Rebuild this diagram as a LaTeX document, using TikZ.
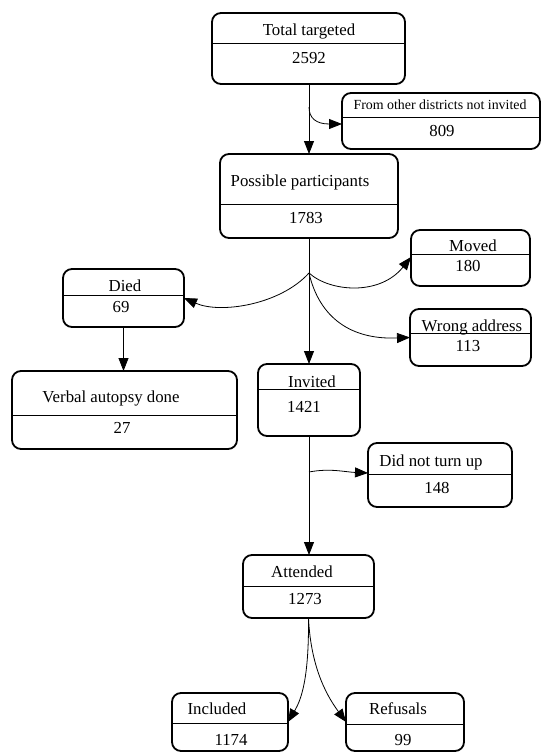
\documentclass[tikz,border=0pt]{standalone}
\usepackage{fontspec}
\setmainfont{Liberation Serif}
\usetikzlibrary{arrows.meta}
\newcommand\flowbox[6]{%
  \node[box, minimum width={(#4-#2)*1bp}, minimum height={(#5-#3)*1bp}] (#1) at ({(#2+#4)/2},{(#3+#5)/2}) {};
  \draw[divline] (#1.west |- 0,#6) -- (#1.east |- 0,#6);
}
\begin{document}
\begin{tikzpicture}[x=1bp,y=-1bp,
  box/.style={draw, line width=1.8bp, rounded corners=9bp, inner sep=0pt, outer sep=0pt},
  divline/.style={line width=0.8bp},
  txt/.style={font=\fontsize{16.8bp}{20bp}\selectfont, inner sep=0pt, anchor=base, yshift=-5.5bp},
  smalltxt/.style={font=\fontsize{13.9bp}{16bp}\selectfont, inner sep=0pt, anchor=base, yshift=-4.5bp},
  edge/.style={line width=0.8bp, -{Triangle[length=13bp,width=10bp]}}]
\useasboundingbox (0,0) rectangle (549,753);

% boxes
\flowbox{tt}{212}{13}{405}{84}{43}
\flowbox{fod}{342}{93}{540}{149}{117}
\flowbox{pp}{220}{154}{398}{238}{204}
\flowbox{mv}{411}{230}{530}{286}{254}
\flowbox{died}{63}{269}{184}{327}{295}
\flowbox{wa}{410}{309}{531}{366}{333}
\flowbox{inv}{258}{364}{360}{436}{389}
\flowbox{va}{12}{371}{237}{449}{415}
\flowbox{dnt}{368}{443}{512}{507}{474}
\flowbox{att}{243}{555}{374}{618}{586}
\flowbox{inc}{172}{693}{288}{751}{723}
\flowbox{ref}{346}{693}{464}{751}{724}

% texts
\node[txt] (tt-a) at (309,30) {Total targeted};
\node[txt] (tt-b) at (309,58) {2592};
\node[smalltxt] (fod-a) at (440,105) {From other districts not invited};
\node[txt] (fod-b) at (442,131) {809};
\node[txt] (pp-a) at (300,181) {Possible participants};
\node[txt] (pp-b) at (306,218) {1783};
\node[txt] (mv-a) at (473,246) {Moved};
\node[txt] (mv-b) at (468,266) {180};
\node[txt] (died-a) at (125,286) {Died};
\node[txt] (died-b) at (121,307) {69};
\node[txt] (wa-a) at (472,326) {Wrong address};
\node[txt] (wa-b) at (468,346) {113};
\node[txt] (inv-a) at (312,382) {Invited};
\node[txt] (inv-b) at (304,407) {1421};
\node[txt] (va-a) at (111,397) {Verbal autopsy done};
\node[txt] (va-b) at (122,428) {27};
\node[txt] (dnt-a) at (431,461) {Did not turn up};
\node[txt] (dnt-b) at (437,488) {148};
\node[txt] (att-a) at (302,572) {Attended};
\node[txt] (att-b) at (305,599) {1273};
\node[txt] (inc-a) at (217,709) {Included};
\node[txt] (inc-b) at (231,740) {1174};
\node[txt] (ref-a) at (398,709) {Refusals};
\node[txt] (ref-b) at (403,740) {99};

% branch points
\coordinate (b1) at (309,107);
\coordinate (b2) at (309,273);
\coordinate (b3) at (309,472);

% connectors
\draw[edge] (tt.south -| pp.north) -- (pp.north);
\draw[edge] (b1) .. controls (309,118) and (316,124) .. ([yshift=-3bp]fod.west);
\draw[edge] (pp.south) -- (inv.north);
\draw[edge] (b2) .. controls (280,305) and (220,314) .. (died.east);
\draw[edge] (b2) .. controls (330,292) and (380,296) .. ([yshift=1bp]mv.west);
\draw[edge] (b2) .. controls (318,312) and (345,340) .. (wa.west);
\draw[edge] (died.south) -- (died.south |- va.north);
\draw[edge] (inv.south) -- (inv.south |- att.north);
\draw[edge] (b3) .. controls (330,468) and (345,472) .. ([yshift=2bp]dnt.west);
\draw[edge] (att.south) .. controls (309,680) and (301,700) .. (inc.east);
\draw[edge] (att.south) .. controls (311,672) and (330,700) .. (ref.west);
\end{tikzpicture}
\end{document}
